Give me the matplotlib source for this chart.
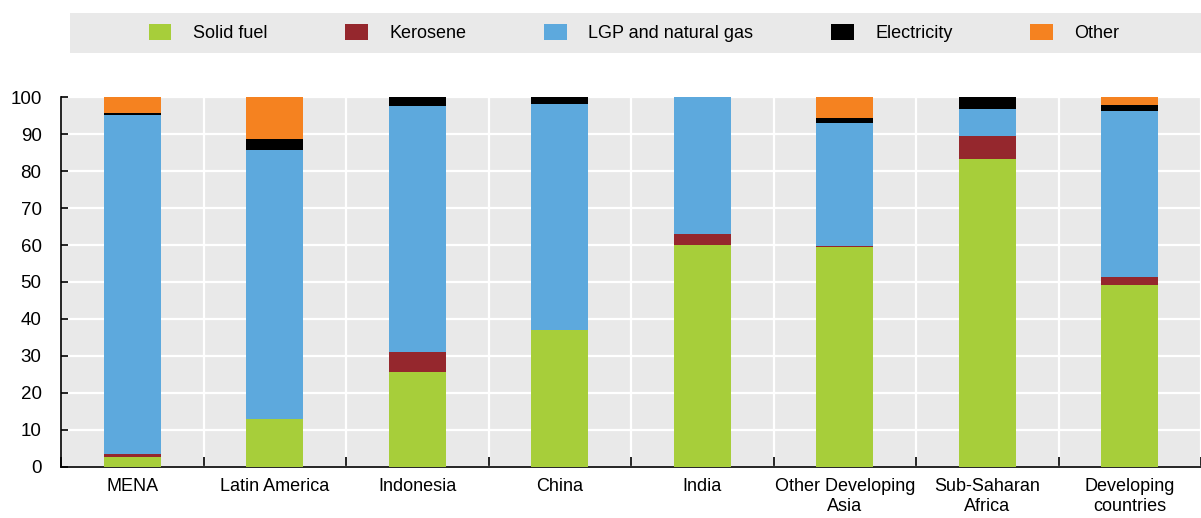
import numpy as np
import matplotlib
matplotlib.use("Agg")
import matplotlib.pyplot as plt
from matplotlib.patches import Rectangle

plt.rcParams["font.family"] = ["Liberation Sans Narrow", "Liberation Sans", "DejaVu Sans"]

# ── data (share of households, %) ────────────────────────────────────────────
regions = ["MENA", "Latin America", "Indonesia", "China", "India",
           "Other Developing\nAsia", "Sub-Saharan\nAfrica", "Developing\ncountries"]
series_names = ["Solid fuel", "Kerosene", "LGP and natural gas", "Electricity", "Other"]

solid_fuel  = [2.8, 13.0, 25.6, 37.0, 60.1, 59.4, 83.2, 49.2]
kerosene    = [0.6,  0.1,  5.6,  0.1,  2.9,  0.4,  6.3,  2.1]
lpg_gas     = [91.8, 72.5, 66.5, 60.9, 37.0, 33.1, 7.3, 44.9]
electricity = [0.4,  3.0,  2.3,  2.0,  0.0,  1.3,  3.2,  1.6]
other       = [4.4, 11.4,  0.0,  0.0,  0.0,  5.8,  0.0,  2.2]

colors = ["#a7ce3a", "#95272d", "#5da9dd", "#000000", "#f58220"]
BG = "#e9e9e9"

fig = plt.figure(figsize=(12.01, 5.18), dpi=100)
ax = fig.add_axes([0.0508, 0.0985, 0.9492, 0.7142])
ax.set_facecolor(BG)

x = np.arange(len(regions))
bottom = np.zeros(len(regions))
for vals, name, col in zip([solid_fuel, kerosene, lpg_gas, electricity, other],
                           series_names, colors):
    ax.bar(x, vals, width=0.4, bottom=bottom, color=col, label=name, zorder=3)
    bottom += np.array(vals)

ax.set_xlim(-0.5, len(regions) - 0.5)
ax.set_ylim(0, 100)
ax.set_yticks(range(0, 101, 10))
ax.set_xticks(x)
ax.set_xticklabels(regions, fontsize=13, linespacing=1.25)
ax.set_xticks(np.arange(len(regions) + 1) - 0.5, minor=True)
ax.tick_params(axis="x", which="major", length=0, pad=8)
ax.tick_params(axis="x", which="minor", direction="in", length=7, width=1.2)
ax.tick_params(axis="y", direction="in", length=5, width=1.2, labelsize=13.5, pad=14)

ax.grid(axis="y", color="white", linewidth=1.6, zorder=0)
ax.grid(axis="x", which="minor", color="white", linewidth=1.6, zorder=0)
ax.set_axisbelow(True)
for side in ["top", "right"]:
    ax.spines[side].set_visible(False)
for side in ["left", "bottom"]:
    ax.spines[side].set_linewidth(1.2)
    ax.spines[side].set_color("black")

# ── legend band ──────────────────────────────────────────────────────────────
fig.patches.append(Rectangle((70 / 1201, 1 - 53 / 518), 1 - 70 / 1201, 40 / 518,
                             transform=fig.transFigure, facecolor=BG,
                             edgecolor="none", zorder=0))
handles, labels = ax.get_legend_handles_labels()
fig.legend(handles, labels, loc="center", ncol=5, frameon=False,
           bbox_to_anchor=(0.528, 1 - 33 / 518), fontsize=13,
           handlelength=1.25, handleheight=0.95, handletextpad=1.2,
           columnspacing=4.3)

fig.savefig("out.png", dpi=100)
